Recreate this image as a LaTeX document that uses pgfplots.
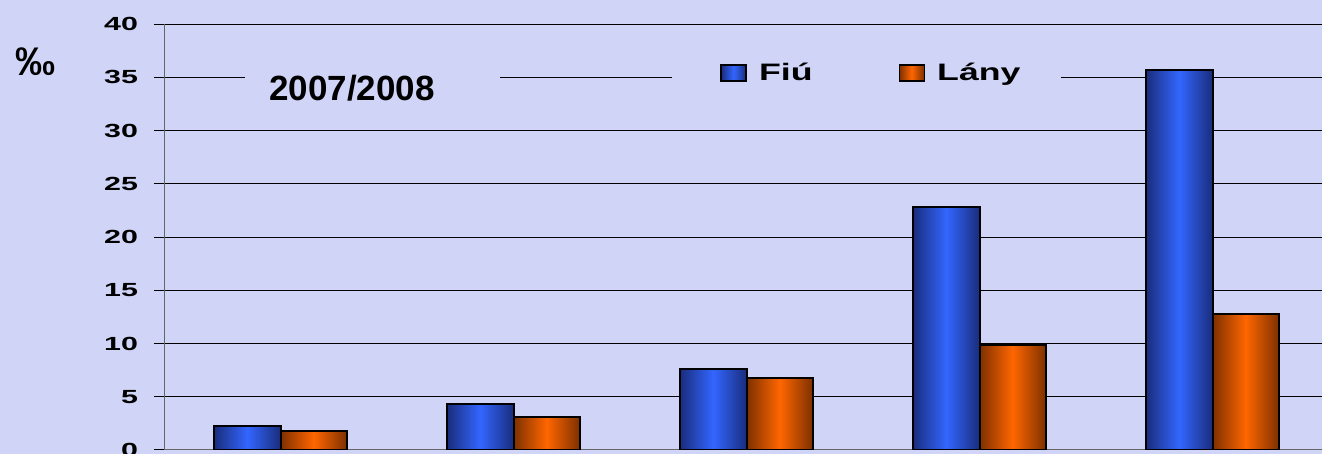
\documentclass[border=0pt]{standalone}
\usepackage{pgfplots}
\pgfplotsset{compat=1.18}
\usepackage{fontspec}
\setmainfont{Liberation Sans}
\definecolor{bgcol}{RGB}{208,212,246}
\definecolor{bluemid}{RGB}{51,102,255}
\definecolor{bluedark}{RGB}{25,45,125}
\definecolor{orgmid}{RGB}{255,102,0}
\definecolor{orgdark}{RGB}{125,48,0}
\pgfplotsset{
  fiu/.style={ybar, bar width=0.285, bar shift=-0.1425, draw=black, line width=1pt,
    left color=bluedark, right color=bluedark, middle color=bluemid},
  lany/.style={ybar, bar width=0.285, bar shift=0.1425, draw=black, line width=1pt,
    left color=orgdark, right color=orgdark, middle color=orgmid},
}
\begin{document}
\begin{tikzpicture}[x=1pt,y=1pt]
\fill[bgcol] (0,0) rectangle (661,227);
\useasboundingbox (0,0) rectangle (661,227);
\begin{axis}[
  at={(82pt,2pt)}, anchor=south west,
  scale only axis, width=579pt, height=213pt,
  xmin=-0.5, xmax=4.47, ymin=0, ymax=40,
  ytick={0,5,...,40}, xtick=\empty,
  ymajorgrids, grid style={black, line width=0.5pt},
  axis lines*=left,
  axis line style={black!60, line width=0.5pt},
  tick align=outside, major tick length=5pt,
  ytick style={black, line width=0.5pt},
  /pgf/number format/assume math mode=true,
  yticklabel={\scalebox{1.6}[1]{\pgfmathprintnumber{\tick}}},
  yticklabel style={font=\fontsize{9.5}{10}\selectfont\bfseries, xshift=-4.5pt},
  legend columns=2,
  legend style={draw=none, fill=none, at={(0.475,0.885)}, anchor=west,
    font=\fontsize{11.9}{13}\selectfont\bfseries,
    /tikz/every even column/.append style={column sep=41pt}},
  legend image code/.code={\draw[#1, line width=0.6pt] (0pt,-4pt) rectangle (12.5pt,4pt); \path[draw=none,fill=none,shade=none] (16.9pt,-0.1pt) rectangle (17pt,0.1pt);},
]
\addplot[fiu] coordinates {(0,2.3)};
\addplot[lany] coordinates {(0,1.8)};
\addplot[fiu, forget plot] coordinates {(1,4.3)};
\addplot[fiu, forget plot] coordinates {(2,7.6)};
\addplot[fiu, forget plot] coordinates {(3,22.8)};
\addplot[fiu, forget plot] coordinates {(4,35.7)};
\addplot[lany, forget plot] coordinates {(1,3.1)};
\addplot[lany, forget plot] coordinates {(2,6.8)};
\addplot[lany, forget plot] coordinates {(3,9.9)};
\addplot[lany, forget plot] coordinates {(4,12.8)};
\fill[bgcol] (axis cs:-0.152,33.8) rectangle (axis cs:0.942,36.2);
\fill[bgcol] (axis cs:1.680,33.8) rectangle (axis cs:3.35,36.2);
\legend{\scalebox{1.5}[1]{Fiú},\scalebox{1.5}[1]{Lány}}
\end{axis}
\node[font=\fontsize{17.5}{20}\selectfont\bfseries] at (176pt,183pt) {2007/2008};
\node[font=\fontsize{20}{22}\selectfont\bfseries] at (18pt,196pt) {‰};
\end{tikzpicture}
\end{document}
